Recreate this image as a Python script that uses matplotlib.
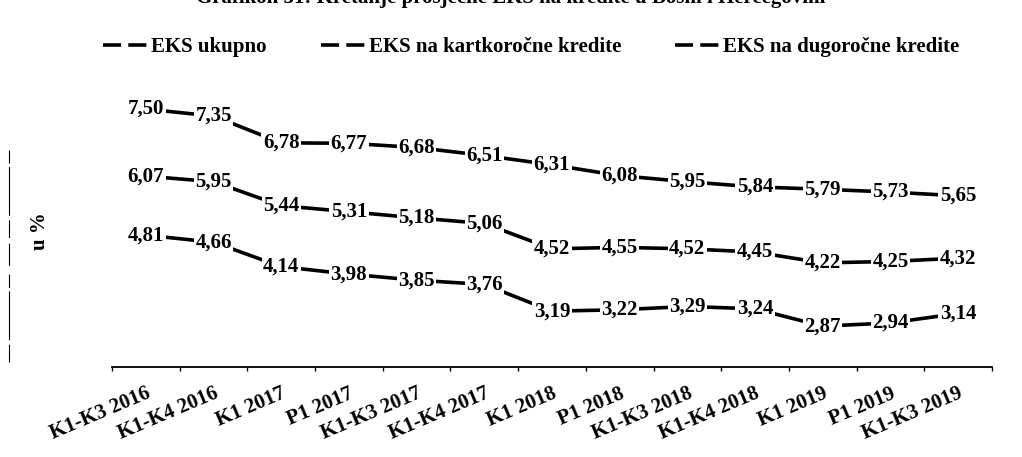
"""Grafikon 31 — kretanje prosječne EKS na kredite u BiH (scan-style recreation)."""

import matplotlib

matplotlib.use("Agg")
import matplotlib.pyplot as plt
from matplotlib.lines import Line2D

plt.rcParams["font.family"] = ["Liberation Serif", "DejaVu Serif"]
plt.rcParams["font.weight"] = "bold"

periods = ["K1-K3 2016", "K1-K4 2016", "K1 2017", "P1 2017", "K1-K3 2017", "K1-K4 2017",
           "K1 2018", "P1 2018", "K1-K3 2018", "K1-K4 2018", "K1 2019", "P1 2019", "K1-K3 2019"]
eks_dugorocne = [7.50, 7.35, 6.78, 6.77, 6.68, 6.51, 6.31, 6.08, 5.95, 5.84, 5.79, 5.73, 5.65]
eks_ukupno = [6.07, 5.95, 5.44, 5.31, 5.18, 5.06, 4.52, 4.55, 4.52, 4.45, 4.22, 4.25, 4.32]
eks_kratkorocne = [4.81, 4.66, 4.14, 3.98, 3.85, 3.76, 3.19, 3.22, 3.29, 3.24, 2.87, 2.94, 3.14]
legend_labels = ["EKS ukupno", "EKS na kartkoročne kredite", "EKS na dugoročne kredite"]
title = "Grafikon 31: Kretanje prosječne EKS na kredite u Bosni i Hercegovini"

fig = plt.figure(figsize=(10.22, 4.57), dpi=100)
ax = fig.add_axes([0.1096, 0.197, 0.861, 0.667])

x = list(range(len(periods)))
for series in (eks_dugorocne, eks_ukupno, eks_kratkorocne):
    ax.plot(x, series, color="black", lw=2.6, solid_capstyle="butt", zorder=2)
    for xi, v in zip(x, series):
        ax.text(xi, v, f"{v:.2f}".replace(".", ","), ha="center", va="center",
                fontsize=15, fontweight="bold", zorder=3,
                bbox=dict(facecolor="white", edgecolor="none", pad=1.0))

ax.set_xlim(-0.5, 12.5)
ax.set_ylim(2.0, 8.5)
for side in ("top", "right", "left"):
    ax.spines[side].set_visible(False)
ax.spines["bottom"].set_linewidth(1.3)
ax.set_yticks([])
ax.set_xticks(x)
ax.set_xticklabels(periods, rotation=23, ha="right", rotation_mode="anchor",
                   fontsize=15, fontweight="bold")
ax.tick_params(axis="x", which="major", length=0, pad=12)
ax.set_xticks([i - 0.5 for i in x] + [12.5], minor=True)
ax.tick_params(axis="x", which="minor", length=3, width=1)

fig.text(0.039, 0.495, "u %", rotation=90, ha="center", va="center",
         fontsize=15, fontweight="bold")

# broken left border left over from the scan
fig.add_artist(Line2D([0.009, 0.009], [0.208, 0.676], color="black", lw=0.8,
                      ls=(0, (16, 4, 44, 3, 12, 8, 20, 5)), transform=fig.transFigure))

handles = [Line2D([], [], color="black", lw=2.6, ls=(0, (5, 2))) for _ in legend_labels]
fig.legend(handles, legend_labels, loc="center", bbox_to_anchor=(0.52, 0.897), ncol=3,
           frameon=False, fontsize=15, handlelength=2.2, handletextpad=0.1,
           columnspacing=2.6)

fig.text(0.5, 0.994, title, ha="center", va="baseline", fontsize=15, fontweight="bold")

fig.savefig("out.png", dpi=100)
